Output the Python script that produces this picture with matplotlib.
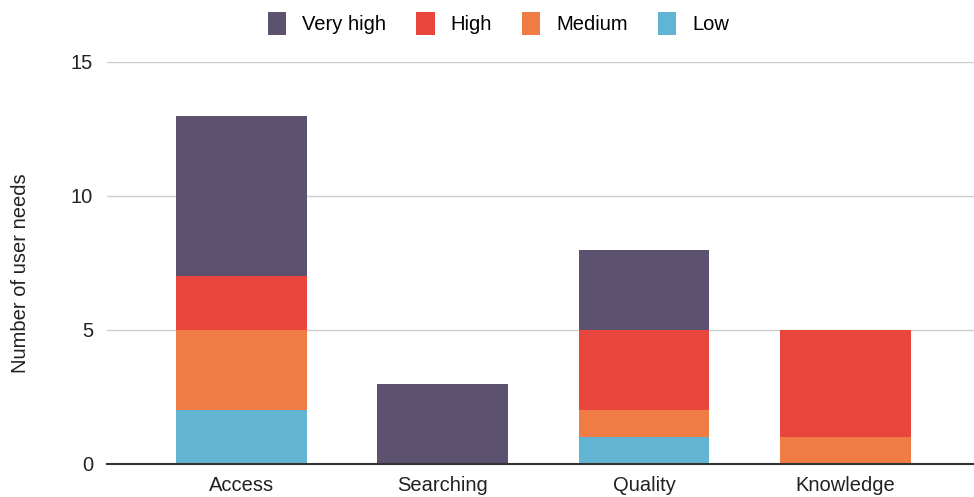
import matplotlib
matplotlib.use("Agg")
import matplotlib.pyplot as plt
import numpy as np

categories = ["Access", "Searching", "Quality", "Knowledge"]
series_names = ["Very high", "High", "Medium", "Low"]
low = [2, 0, 1, 0]
medium = [3, 0, 1, 1]
high = [2, 0, 3, 4]
very_high = [6, 3, 3, 0]
yticks = [0, 5, 10, 15]

colors = {"Very high": "#5c5270", "High": "#e8453c", "Medium": "#ef7b45", "Low": "#62b4d3"}

plt.rcParams['font.family'] = ['Liberation Sans', 'DejaVu Sans']

fig = plt.figure(figsize=(9.74, 4.97), dpi=100)
ax = fig.add_axes([0.1099, 0.0664, 0.8901, 0.8089])

x = np.arange(len(categories))
w = 0.65
stack = [("Low", low), ("Medium", medium), ("High", high), ("Very high", very_high)]
bottom = np.zeros(len(categories))
handles = {}
for name, vals in stack:
    v = np.array(vals, dtype=float)
    b = ax.bar(x, v, w, bottom=bottom, color=colors[name], label=name, zorder=3, linewidth=0)
    handles[name] = b
    bottom += v

fs = 14.5
ax.set_xlim(-0.668, 3.64)
ax.set_ylim(0, 15)
ax.set_yticks(yticks)
ax.set_xticks(x)
ax.set_xticklabels(categories, fontsize=fs, color="#222222")
ax.tick_params(axis='y', labelsize=fs, length=0, pad=10, colors="#222222")
ax.tick_params(axis='x', length=0, pad=9)
ax.grid(axis='y', color="#cccccc", linewidth=1, zorder=0)
for s in ["top", "right", "left"]:
    ax.spines[s].set_visible(False)
ax.spines["bottom"].set_color("#333333")
ax.spines["bottom"].set_linewidth(1.5)
ax.spines["bottom"].set_zorder(4)
ax.set_ylabel("Number of user needs", fontsize=fs, color="#222222")
ax.yaxis.set_label_coords(-0.089, 0.475)

leg = fig.legend([handles[n] for n in series_names], series_names, loc="upper center",
                 bbox_to_anchor=(0.512, 1.012), ncol=4, frameon=False, fontsize=fs,
                 handlelength=0.9, handleheight=1.4, handletextpad=0.8, columnspacing=1.5)

fig.savefig("out.png", dpi=100)
